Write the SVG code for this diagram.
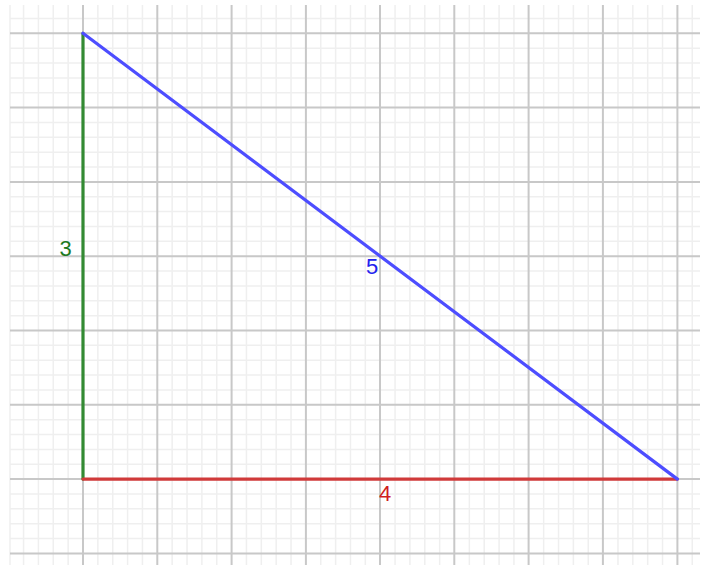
<svg xmlns="http://www.w3.org/2000/svg" width="709" height="565" viewBox="0 0 709 565">
<style>
.minor{stroke:#efefef;stroke-width:1.5;fill:none}
.major{stroke:#c8c8c8;stroke-width:2;fill:none}
.lbl{font-family:"Liberation Sans",Arial,sans-serif;font-size:22px;text-anchor:middle}
</style>
<rect width="709" height="565" fill="#ffffff"/>
<g id="grid">
<path class="minor" d="M10 5V565M23.56 5V565M38.42 5V565M53.28 5V565M68.14 5V565M97.86 5V565M112.72 5V565M127.58 5V565M142.44 5V565M172.16 5V565M187.02 5V565M201.88 5V565M216.74 5V565M246.46 5V565M261.32 5V565M276.18 5V565M291.04 5V565M320.76 5V565M335.62 5V565M350.48 5V565M365.34 5V565M395.06 5V565M409.92 5V565M424.78 5V565M439.64 5V565M469.36 5V565M484.22 5V565M499.08 5V565M513.94 5V565M543.66 5V565M558.52 5V565M573.38 5V565M588.24 5V565M617.96 5V565M632.82 5V565M647.68 5V565M662.54 5V565M692.26 5V565"/>
<path class="minor" d="M10 18.44H700M10 48.16H700M10 63.02H700M10 77.88H700M10 92.74H700M10 122.46H700M10 137.32H700M10 152.18H700M10 167.04H700M10 196.76H700M10 211.62H700M10 226.48H700M10 241.34H700M10 271.06H700M10 285.92H700M10 300.78H700M10 315.64H700M10 345.36H700M10 360.22H700M10 375.08H700M10 389.94H700M10 419.66H700M10 434.52H700M10 449.38H700M10 464.24H700M10 493.96H700M10 508.82H700M10 523.68H700M10 538.54H700"/>
<path class="major" d="M83 5V565M157.3 5V565M231.6 5V565M305.9 5V565M380 5V565M454.3 5V565M528.6 5V565M602.9 5V565M677.4 5V565"/>
<path class="major" d="M10 33.3H700M10 107.6H700M10 181.9H700M10 256.2H700M10 330.5H700M10 404.8H700M10 479.1H700M10 553.6H700"/>
</g>
<g id="connectors" stroke-width="3.2" stroke-linecap="round" fill="none">
<line id="side-3" x1="83" y1="33.3" x2="83" y2="479.1" stroke="#338a33"/>
<line id="side-4" x1="83" y1="479.1" x2="677.4" y2="479.1" stroke="#d03a3a"/>
<line id="side-5" x1="83" y1="33.3" x2="677.4" y2="479.1" stroke="#4d4dff"/>
</g>
<g id="label-3"><text class="lbl" x="65.5" y="256" fill="#1e7a1e">3</text></g>
<g id="label-5"><text class="lbl" x="372" y="273.5" fill="#2222ee">5</text></g>
<g id="label-4"><text class="lbl" x="385" y="501" fill="#d01e1e">4</text></g>
</svg>
